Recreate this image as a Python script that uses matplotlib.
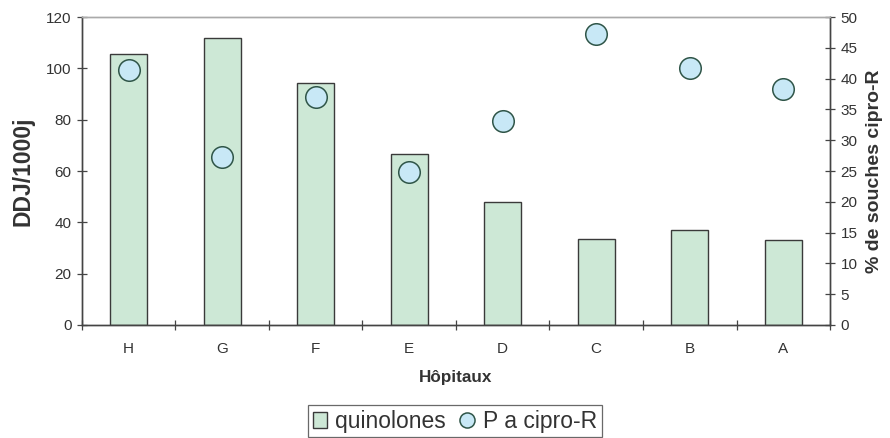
import matplotlib
matplotlib.use("Agg")
import matplotlib.pyplot as plt
import numpy as np

plt.rcParams["font.family"] = ["Liberation Sans", "DejaVu Sans"]

# ---------------------------------------------------------------------------
# Data
# ---------------------------------------------------------------------------
hospitals = ["H", "G", "F", "E", "D", "C", "B", "A"]
quinolones = [105.5, 112, 94.2, 66.8, 47.8, 33.5, 37.2, 33.0]      # DDJ/1000j
cipro_r = [41.4, 27.2, 37.0, 24.8, 33.2, 47.2, 41.8, 38.4]         # % souches

bar_fill = "#cde8d6"
bar_edge = "#3a3a3a"
dot_fill = "#c8e8f6"
dot_edge = "#2f5548"
txt = "#333333"

fig = plt.figure(figsize=(8.9, 4.38), dpi=100)
ax = fig.add_axes([0.0921, 0.258, 0.8405, 0.703])
ax2 = ax.twinx()

x = np.arange(len(hospitals))
bars = ax.bar(x, quinolones, 0.4, color=bar_fill, edgecolor=bar_edge,
              linewidth=1.0, label="quinolones", zorder=2)
pts, = ax2.plot(x, cipro_r, "o", ms=15.5, mfc=dot_fill, mec=dot_edge,
                mew=1.1, label="P a cipro-R", zorder=3)

ax.set_xlim(-0.5, len(hospitals) - 0.5)
ax.set_ylim(0, 120)
ax.set_yticks(np.arange(0, 121, 20))
ax2.set_ylim(0, 50)
ax2.set_yticks(np.arange(0, 51, 5))

# category ticks sit between the groups, labels centred under them
ax.set_xticks(np.arange(-0.5, len(hospitals) - 0.4, 1.0))
ax.set_xticklabels([])
ax.set_xticks(x, minor=True)
ax.set_xticklabels(hospitals, minor=True)
ax.tick_params(axis="x", which="major", direction="inout", length=7,
               width=0.9, color="#444444")
ax.tick_params(axis="x", which="minor", length=0, pad=12,
               labelsize=11, labelcolor=txt)
ax.tick_params(axis="y", direction="inout", length=7, width=0.9,
               color="#444444", labelsize=11, labelcolor=txt, pad=4)
ax2.tick_params(axis="y", direction="inout", length=7, width=0.9,
                color="#444444", labelsize=11, labelcolor=txt, pad=4)

for a in (ax, ax2):
    a.spines["top"].set_color("#aaaaaa")
    a.spines["left"].set_color("#444444")
    a.spines["right"].set_color("#444444")
    a.spines["bottom"].set_color("#444444")
    for s in a.spines.values():
        s.set_linewidth(1.0)

ax.set_ylabel("DDJ/1000j", fontsize=16.5, fontweight="bold", color=txt,
              labelpad=8)
ax2.set_ylabel("% de souches cipro-R", fontsize=14, fontweight="bold",
               color=txt, labelpad=6)
ax.set_xlabel("Hôpitaux", fontsize=12.3, fontweight="bold", color=txt,
              labelpad=10.5)

leg = fig.legend([bars, pts], ["quinolones", "P a cipro-R"],
                 loc="upper center", bbox_to_anchor=(0.511, 1 - 405 / 438),
                 ncol=2, fontsize=16.5, frameon=True, fancybox=False,
                 handlelength=0.65, handletextpad=0.35, columnspacing=0.6,
                 borderpad=0.2, borderaxespad=0, markerscale=0.7)
leg.get_frame().set_edgecolor("#444444")
leg.get_frame().set_linewidth(0.9)
for t in leg.get_texts():
    t.set_color(txt)

fig.savefig("out.png", dpi=100)
